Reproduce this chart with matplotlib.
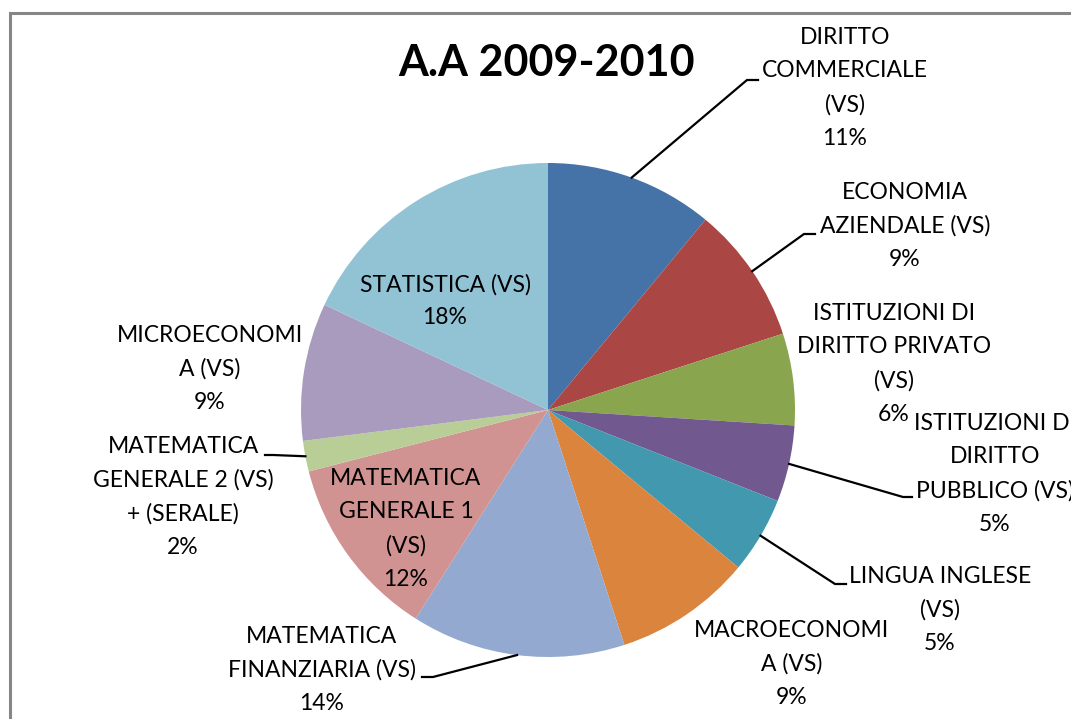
import matplotlib
matplotlib.use("Agg")
import matplotlib.pyplot as plt
from matplotlib.patches import Rectangle
import numpy as np

plt.rcParams['font.family'] = ['Lato', 'DejaVu Sans']

# data
categories = ['DIRITTO COMMERCIALE (VS)', 'ECONOMIA AZIENDALE (VS)',
              'ISTITUZIONI DI DIRITTO PRIVATO (VS)', 'ISTITUZIONI DI DIRITTO PUBBLICO (VS)',
              'LINGUA INGLESE (VS)', 'MACROECONOMIA (VS)', 'MATEMATICA FINANZIARIA (VS)',
              'MATEMATICA GENERALE 1 (VS)', 'MATEMATICA GENERALE 2 (VS) + (SERALE)',
              'MICROECONOMIA (VS)', 'STATISTICA (VS)']
wrapped = ['DIRITTO\nCOMMERCIALE\n(VS)', 'ECONOMIA\nAZIENDALE (VS)',
           'ISTITUZIONI DI\nDIRITTO PRIVATO\n(VS)', 'ISTITUZIONI DI\nDIRITTO\nPUBBLICO (VS)',
           'LINGUA INGLESE\n(VS)', 'MACROECONOMI\nA (VS)', 'MATEMATICA\nFINANZIARIA (VS)',
           'MATEMATICA\nGENERALE 1\n(VS)', 'MATEMATICA\nGENERALE 2 (VS)\n+ (SERALE)',
           'MICROECONOMI\nA (VS)', 'STATISTICA (VS)']
percent = [11, 9, 6, 5, 5, 9, 14, 12, 2, 9, 18]
colors = ['#4572A7', '#AA4643', '#89A54E', '#71588F', '#4198AF', '#DB843D',
          '#93A9CF', '#D19392', '#B9CD96', '#A99BBD', '#92C3D5']

# label layout (pixel coords, y down) and leader knees (None = no leader)
label_xy = [(845, 88), (905, 226), (894, 364), (995, 474), (940, 610), (792, 664),
            (322, 670), (406, 529), (183, 497), (210, 369), (445, 301)]
knees = [((747, 80), (758, 80)), ((804, 234), (815, 234)), None,
         ((903, 497), (912, 497)), ((835, 584), (846, 584)), None,
         ((433, 677), (422, 677)), None, ((273, 455), (265, 455)), None, None]

W, H = 1071, 719
fig = plt.figure(figsize=(W / 100, H / 100), dpi=100)
ax = fig.add_axes([0, 0, 1, 1])

cx, cy, r = 548, H - 410, 247
wedges, _ = ax.pie(percent, colors=colors, startangle=90, counterclock=False,
                   center=(cx, cy), radius=r, frame=False,
                   wedgeprops=dict(linewidth=0))

fs = 16.5
for i, w in enumerate(wedges):
    lx, ly = label_xy[i]
    ax.text(lx, H - ly, wrapped[i] + '\n' + f'{percent[i]}%', ha='center', va='center',
            fontsize=fs, linespacing=1.72, color='black')
    if knees[i] is not None:
        mid = np.deg2rad((w.theta1 + w.theta2) / 2)
        sx, sy = cx + r * np.cos(mid), cy + r * np.sin(mid)
        (kx, ky), (ex, ey) = knees[i]
        ax.plot([sx, kx, ex], [sy, H - ky, H - ey], color='black', lw=1.6,
                solid_joinstyle='miter')

ax.text(547, H - 63, 'A.A 2009-2010', ha='center', va='center',
        fontsize=31, fontweight='bold')

# chart border (only left and top visible)
ax.add_patch(Rectangle((10, -20), W + 50, H - 13 + 20, fill=False,
                       edgecolor='#868686', lw=2.2, clip_on=False))

ax.set_xlim(0, W)
ax.set_ylim(0, H)
ax.set_aspect('auto')
ax.axis('off')

fig.savefig('out.png', dpi=100)
